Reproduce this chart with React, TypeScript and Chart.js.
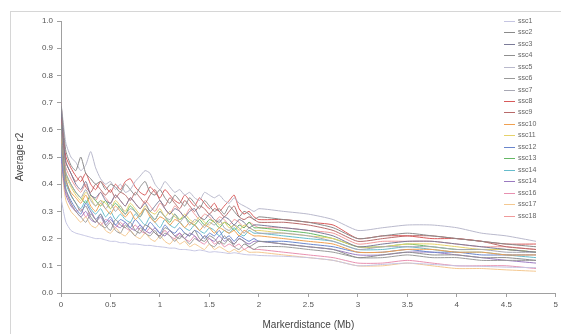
import React, { useEffect, useRef } from "react";
import { Chart, registerables } from "chart.js";

Chart.register(...registerables);

// x positions (Mb) shared by every series
const denseX: number[] = [
  0, 0.025, 0.05, 0.1, 0.15, 0.2, 0.25, 0.3, 0.35, 0.4, 0.45, 0.5, 0.55, 0.6, 0.65, 0.7, 0.75, 0.8, 0.85, 0.9,
  0.95, 1.0, 1.05, 1.1, 1.15, 1.2, 1.25, 1.3, 1.35, 1.4, 1.45, 1.5, 1.55, 1.6, 1.65, 1.7, 1.75, 1.8, 1.85, 1.9,
  1.95, 2.0,
];
const tailX: number[] = [2.25, 2.5, 2.75, 3.0, 3.25, 3.5, 3.75, 4.0, 4.25, 4.5, 4.8];

const seriesNames: string[] = [
  "ssc1", "ssc2", "ssc3", "ssc4", "ssc5", "ssc6", "ssc7", "ssc8", "ssc9",
  "ssc10", "ssc11", "ssc12", "ssc13", "ssc14", "ssc14", "ssc16", "ssc17", "ssc18",
];

const seriesColors: string[] = [
  "#c5c5e2", "#8a8a8a", "#7b7b98", "#8f8f8f", "#b9b9cc", "#9a9a9a", "#a8a8b4", "#d85a5a", "#b86a6a",
  "#f0a050", "#e6d26a", "#6a86cc", "#66b866", "#66bccc", "#9a7ac0", "#e890b0", "#f4c890", "#f09a9a",
];

const ssc1 = [0.35,0.30,0.26,0.23,0.22,0.215,0.21,0.205,0.20,0.20,0.195,0.19,0.19,0.185,0.185,0.18,0.18,0.178,0.175,0.175,0.172,0.17,0.168,0.165,0.165,0.16,0.16,0.158,0.155,0.158,0.155,0.15,0.152,0.15,0.148,0.145,0.148,0.145,0.142,0.14,0.14,0.138,
  0.135,0.13,0.12,0.10,0.105,0.11,0.105,0.10,0.098,0.095,0.093];
const ssc2 = [0.70,0.60,0.52,0.47,0.45,0.50,0.44,0.42,0.40,0.41,0.38,0.40,0.39,0.37,0.40,0.38,0.36,0.39,0.41,0.37,0.36,0.38,0.35,0.33,0.36,0.34,0.32,0.35,0.33,0.31,0.34,0.32,0.30,0.31,0.29,0.32,0.30,0.28,0.30,0.29,0.27,0.28,
  0.27,0.26,0.24,0.20,0.21,0.22,0.21,0.20,0.19,0.18,0.17];
const ssc3 = [0.68,0.56,0.48,0.44,0.40,0.38,0.41,0.36,0.35,0.37,0.34,0.33,0.36,0.34,0.32,0.35,0.33,0.31,0.33,0.30,0.32,0.34,0.31,0.29,0.31,0.30,0.28,0.30,0.31,0.28,0.27,0.29,0.27,0.26,0.28,0.27,0.25,0.27,0.26,0.24,0.25,0.25,
  0.24,0.23,0.21,0.17,0.18,0.19,0.19,0.18,0.17,0.16,0.15];
const ssc4 = [0.62,0.50,0.42,0.36,0.33,0.30,0.32,0.28,0.26,0.29,0.25,0.23,0.27,0.25,0.24,0.26,0.23,0.22,0.25,0.24,0.22,0.21,0.24,0.23,0.21,0.20,0.22,0.21,0.23,0.20,0.19,0.21,0.20,0.18,0.21,0.19,0.18,0.20,0.19,0.17,0.18,0.19,
  0.18,0.17,0.16,0.13,0.14,0.15,0.14,0.14,0.13,0.13,0.12];
const ssc5 = [0.70,0.62,0.55,0.50,0.48,0.45,0.47,0.52,0.46,0.42,0.40,0.41,0.38,0.40,0.37,0.38,0.41,0.43,0.45,0.44,0.40,0.38,0.41,0.39,0.37,0.38,0.36,0.37,0.35,0.34,0.37,0.36,0.35,0.36,0.34,0.33,0.35,0.33,0.32,0.31,0.30,0.31,
  0.30,0.29,0.27,0.23,0.24,0.25,0.25,0.24,0.22,0.21,0.19];
const ssc6 = [0.55,0.45,0.38,0.33,0.30,0.28,0.26,0.29,0.27,0.25,0.24,0.26,0.23,0.22,0.25,0.23,0.21,0.24,0.22,0.21,0.23,0.20,0.22,0.21,0.19,0.21,0.20,0.18,0.20,0.19,0.21,0.18,0.17,0.19,0.18,0.20,0.17,0.16,0.18,0.17,0.16,0.17,
  0.17,0.16,0.15,0.13,0.13,0.14,0.13,0.13,0.12,0.12,0.12];
const ssc7 = [0.60,0.50,0.44,0.40,0.37,0.35,0.38,0.34,0.32,0.34,0.31,0.33,0.30,0.32,0.29,0.31,0.30,0.28,0.31,0.29,0.27,0.30,0.28,0.27,0.29,0.26,0.28,0.25,0.27,0.26,0.24,0.26,0.25,0.27,0.24,0.23,0.25,0.24,0.22,0.24,0.23,0.22,
  0.22,0.21,0.19,0.16,0.17,0.17,0.17,0.16,0.16,0.15,0.15];
const ssc8 = [0.70,0.58,0.50,0.46,0.43,0.41,0.44,0.40,0.38,0.41,0.39,0.37,0.40,0.38,0.41,0.42,0.39,0.37,0.36,0.39,0.37,0.35,0.38,0.36,0.34,0.33,0.36,0.34,0.32,0.35,0.33,0.31,0.33,0.30,0.32,0.34,0.36,0.31,0.29,0.30,0.28,0.27,
  0.27,0.26,0.25,0.20,0.21,0.21,0.20,0.20,0.19,0.18,0.18];
const ssc9 = [0.66,0.55,0.48,0.44,0.41,0.43,0.39,0.37,0.40,0.38,0.36,0.38,0.35,0.37,0.36,0.34,0.37,0.35,0.33,0.36,0.38,0.34,0.32,0.35,0.33,0.31,0.34,0.32,0.30,0.32,0.31,0.29,0.31,0.30,0.28,0.30,0.32,0.28,0.27,0.28,0.27,0.26,
  0.26,0.25,0.23,0.19,0.20,0.21,0.21,0.20,0.19,0.17,0.16];
const ssc10 = [0.58,0.48,0.41,0.37,0.35,0.33,0.36,0.32,0.30,0.33,0.31,0.29,0.32,0.30,0.28,0.30,0.27,0.29,0.31,0.28,0.26,0.28,0.27,0.25,0.27,0.26,0.24,0.26,0.25,0.23,0.25,0.24,0.22,0.24,0.23,0.22,0.23,0.21,0.23,0.22,0.21,0.21,
  0.20,0.19,0.18,0.15,0.15,0.16,0.16,0.15,0.15,0.14,0.14];
const ssc11 = [0.60,0.50,0.43,0.39,0.36,0.34,0.37,0.35,0.32,0.34,0.33,0.31,0.34,0.32,0.30,0.33,0.31,0.29,0.32,0.30,0.29,0.31,0.28,0.30,0.28,0.27,0.29,0.27,0.26,0.28,0.26,0.25,0.27,0.25,0.26,0.24,0.25,0.23,0.25,0.24,0.23,0.23,
  0.22,0.21,0.20,0.17,0.17,0.18,0.18,0.17,0.16,0.16,0.15];
const ssc12 = [0.52,0.44,0.38,0.34,0.31,0.29,0.33,0.30,0.27,0.29,0.26,0.28,0.25,0.27,0.26,0.24,0.27,0.25,0.23,0.26,0.24,0.22,0.25,0.23,0.22,0.24,0.22,0.21,0.23,0.22,0.20,0.22,0.21,0.23,0.20,0.21,0.19,0.21,0.20,0.19,0.20,0.19,
  0.19,0.18,0.17,0.15,0.15,0.16,0.15,0.15,0.14,0.14,0.14];
const ssc13 = [0.62,0.51,0.44,0.40,0.37,0.35,0.33,0.36,0.34,0.32,0.34,0.31,0.33,0.31,0.29,0.32,0.30,0.28,0.31,0.29,0.27,0.30,0.28,0.26,0.29,0.27,0.28,0.26,0.25,0.27,0.25,0.27,0.26,0.24,0.26,0.25,0.23,0.25,0.24,0.26,0.24,0.24,
  0.23,0.22,0.20,0.17,0.17,0.18,0.17,0.16,0.16,0.16,0.15];
const ssc14a = [0.56,0.46,0.40,0.36,0.33,0.31,0.34,0.31,0.29,0.31,0.28,0.30,0.27,0.29,0.27,0.26,0.29,0.27,0.25,0.28,0.26,0.24,0.27,0.25,0.24,0.26,0.24,0.23,0.25,0.23,0.22,0.24,0.23,0.21,0.23,0.22,0.24,0.22,0.21,0.23,0.22,0.22,
  0.21,0.20,0.19,0.16,0.16,0.17,0.16,0.15,0.15,0.14,0.13];
const ssc14b = [0.50,0.42,0.36,0.32,0.30,0.28,0.30,0.27,0.26,0.28,0.25,0.27,0.25,0.24,0.26,0.24,0.23,0.25,0.23,0.22,0.24,0.22,0.21,0.23,0.21,0.22,0.20,0.22,0.21,0.19,0.21,0.20,0.19,0.21,0.19,0.20,0.18,0.20,0.19,0.18,0.19,0.19,
  0.18,0.17,0.16,0.14,0.14,0.15,0.15,0.14,0.13,0.12,0.11];
const ssc16 = [0.55,0.44,0.37,0.33,0.30,0.31,0.28,0.30,0.27,0.25,0.27,0.26,0.24,0.26,0.24,0.23,0.25,0.23,0.22,0.24,0.22,0.21,0.23,0.21,0.20,0.22,0.20,0.19,0.21,0.19,0.18,0.20,0.18,0.19,0.17,0.18,0.17,0.18,0.16,0.17,0.16,0.16,
  0.15,0.14,0.13,0.11,0.11,0.12,0.11,0.10,0.10,0.10,0.09];
const ssc17 = [0.50,0.40,0.34,0.30,0.28,0.26,0.28,0.25,0.24,0.26,0.23,0.22,0.24,0.22,0.21,0.23,0.21,0.20,0.22,0.20,0.19,0.21,0.19,0.18,0.20,0.18,0.19,0.17,0.18,0.17,0.16,0.18,0.16,0.17,0.16,0.15,0.16,0.15,0.16,0.15,0.15,0.15,
  0.14,0.13,0.12,0.10,0.10,0.11,0.10,0.09,0.09,0.085,0.08];
const ssc18 = [0.64,0.53,0.46,0.42,0.39,0.37,0.40,0.36,0.34,0.37,0.35,0.33,0.36,0.34,0.32,0.35,0.33,0.31,0.34,0.32,0.30,0.33,0.31,0.29,0.32,0.30,0.28,0.31,0.29,0.27,0.29,0.28,0.26,0.28,0.27,0.25,0.27,0.26,0.24,0.26,0.25,0.24,
  0.24,0.23,0.22,0.18,0.19,0.19,0.19,0.18,0.17,0.17,0.16];

const seriesValues: number[][] = [
  ssc1, ssc2, ssc3, ssc4, ssc5, ssc6, ssc7, ssc8, ssc9,
  ssc10, ssc11, ssc12, ssc13, ssc14a, ssc14b, ssc16, ssc17, ssc18,
];

const xTickStep = 0.5;
const yTickStep = 0.1;

const FONT = "'Liberation Sans', Arial, sans-serif";

const frameAndLegend = {
  id: "frameAndLegend",
  beforeDraw(chart: any) {
    const ctx = chart.ctx;
    ctx.save();
    ctx.fillStyle = "#ffffff";
    ctx.fillRect(0, 0, chart.width, chart.height);
    ctx.strokeStyle = "#d6d6d6";
    ctx.lineWidth = 1;
    ctx.strokeRect(10.5, 11.5, chart.width, chart.height);
    ctx.restore();
  },
  afterDraw(chart: any) {
    const ctx = chart.ctx;
    ctx.save();
    ctx.font = `7px ${FONT}`;
    ctx.textBaseline = "middle";
    ctx.textAlign = "left";
    chart.data.datasets.forEach((ds: any, i: number) => {
      const y = Math.round(20.7 + i * 11.47) + 0.5;
      ctx.strokeStyle = ds.borderColor;
      ctx.lineWidth = 1;
      ctx.beginPath();
      ctx.moveTo(504, y);
      ctx.lineTo(515, y);
      ctx.stroke();
      ctx.fillStyle = "#666666";
      ctx.fillText(ds.label, 518, y);
    });
    ctx.restore();
  },
};

export default function App() {
  const ref = useRef<HTMLCanvasElement | null>(null);

  useEffect(() => {
    if (!ref.current) return;
    const xs = [...denseX, ...tailX];
    const datasets = seriesValues.map((vals, i) => ({
      label: seriesNames[i],
      data: vals.slice(0, xs.length).map((v, j) => ({ x: xs[j], y: v })),
      borderColor: seriesColors[i],
      backgroundColor: seriesColors[i],
      borderWidth: 1,
      pointRadius: 0,
      tension: 0.2,
      fill: false,
    }));

    const chart = new Chart(ref.current, {
      type: "line",
      data: { datasets },
      plugins: [frameAndLegend],
      options: {
        animation: false,
        responsive: false,
        layout: { padding: { left: 0, top: 21, right: 5, bottom: 0 } },
        plugins: { legend: { display: false }, tooltip: { enabled: false } },
        scales: {
          x: {
            type: "linear",
            min: 0,
            max: 5,
            afterFit: (s: any) => { s.height = 41; },
            ticks: {
              stepSize: xTickStep,
              color: "#555555",
              font: { family: FONT, size: 8 },
              padding: 3,
              maxRotation: 0,
              callback: (v: any) => String(Number(v)),
            },
            grid: { drawOnChartArea: false, drawTicks: true, tickLength: 4, color: "#a0a0a0" },
            border: { color: "#a0a0a0" },
            title: {
              display: true,
              text: "Markerdistance (Mb)",
              color: "#444444",
              font: { family: FONT, size: 10 },
              padding: { top: 0, bottom: 3 },
            },
          },
          y: {
            type: "linear",
            min: 0,
            max: 1,
            afterFit: (s: any) => { s.width = 61; },
            ticks: {
              stepSize: yTickStep,
              color: "#555555",
              font: { family: FONT, size: 8 },
              padding: 4,
              callback: (v: any) => Number(v).toFixed(1),
            },
            grid: { drawOnChartArea: false, drawTicks: true, tickLength: 4, color: "#a0a0a0" },
            border: { color: "#a0a0a0" },
            title: {
              display: true,
              text: "Average r2",
              color: "#444444",
              font: { family: FONT, size: 10 },
              padding: { top: 14, bottom: 0 },
            },
          },
        },
      },
    });
    return () => chart.destroy();
  }, []);

  return (
    <div style={{ position: "absolute", left: 0, top: 0, width: 561, height: 334 }}>
      <canvas ref={ref} width={561} height={334} style={{ display: "block" }} />
    </div>
  );
}
